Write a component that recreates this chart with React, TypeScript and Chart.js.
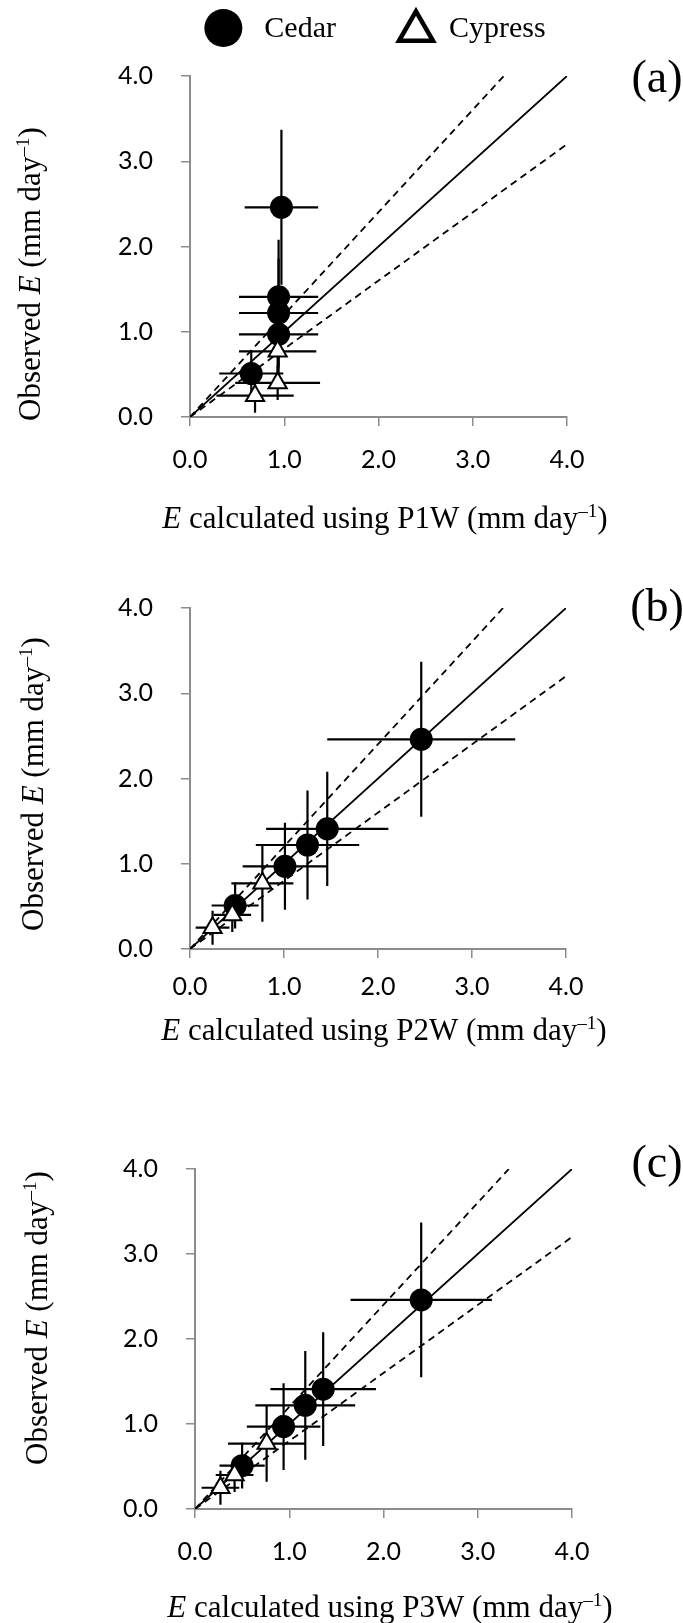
import React, { useEffect, useRef } from 'react';
import { Chart, registerables } from 'chart.js';

Chart.register(...registerables);

// ---------- data ----------
const TICK_MIN = 0;
const TICK_MAX = 4;
const TICK_STEP = 1;

const LEGEND_LABELS = ['Cedar', 'Cypress'];
const PANEL_TAGS = ['(a)', '(b)', '(c)'];
const METHODS = ['P1W', 'P2W', 'P3W'];

// observed E (shared by all panels)
const cedarObs = [2.46, 1.41, 1.22, 0.97, 0.51];
const cedarObsErr = [0.91, 0.67, 0.64, 0.51, 0.27];
const cypressObs = [0.77, 0.4, 0.25];
const cypressObsErr = [0.45, 0.2, 0.2];

// calculated E, P1W
const cedarP1W = [0.97, 0.94, 0.94, 0.94, 0.65];
const cedarP1WErr = [0.39, 0.42, 0.42, 0.42, 0.34];
const cypressP1W = [0.93, 0.93, 0.69];
const cypressP1WErr = [0.41, 0.45, 0.41];

// calculated E, P2W
const cedarP2W = [2.46, 1.46, 1.25, 1.01, 0.48];
const cedarP2WErr = [1.0, 0.65, 0.55, 0.45, 0.25];
const cypressP2W = [0.77, 0.45, 0.24];
const cypressP2WErr = [0.33, 0.2, 0.18];

// calculated E, P3W
const cedarP3W = [2.4, 1.36, 1.17, 0.94, 0.5];
const cedarP3WErr = [0.75, 0.56, 0.53, 0.39, 0.24];
const cypressP3W = [0.76, 0.42, 0.27];
const cypressP3WErr = [0.41, 0.2, 0.2];

// reference lines (1:1 and ±20 %)
const oneToOneX = [0, 4];
const oneToOneY = [0, 4];
const upperX = [0, 3.33];
const upperY = [0, 4];
const lowerX = [0, 4];
const lowerY = [0, 3.2];

const CALC_X = [
  [cedarP1W, cedarP1WErr, cypressP1W, cypressP1WErr],
  [cedarP2W, cedarP2WErr, cypressP2W, cypressP2WErr],
  [cedarP3W, cedarP3WErr, cypressP3W, cypressP3WErr],
];

// ---------- layout (page pixels) ----------
const PAGE_W = 683;
const LAYOUT = [
  { canvasTop: 0, canvasH: 545, left: 190, right: 567, top: 76, bottom: 417, xPad: 19,
    yTitle: [30, 274], xTitle: [385, 518], tag: [657, 77], legendY: 28, legendCX: 375 },
  { canvasTop: 545, canvasH: 535, left: 190, right: 566, top: 608, bottom: 949, xPad: 14,
    yTitle: [33, 784], xTitle: [384, 1030], tag: [657, 606] },
  { canvasTop: 1080, canvasH: 543, left: 195, right: 572, top: 1169, bottom: 1509, xPad: 19,
    yTitle: [37, 1318], xTitle: [390, 1607], tag: [657, 1162] },
];

const SERIF = '"Liberation Serif", "Times New Roman", serif';
const SANS = 'Lato, "Open Sans", sans-serif';
const AXIS_GREY = '#8c8c8c';

type Seg = { text: string; italic?: boolean; sup?: boolean };
type RichItem = { segs: Seg[]; x: number; y: number; size: number; rotate?: number };

const toPts = (xs: number[], xe: number[], ys: number[], ye: number[]) =>
  xs.map((x, i) => ({ x, y: ys[i], xErr: xe[i], yErr: ye[i] }));
const toLine = (xs: number[], ys: number[]) => xs.map((x, i) => ({ x, y: ys[i] }));

const errorBarPlugin = {
  id: 'errorBars',
  beforeDatasetsDraw(chart: any) {
    const { ctx } = chart;
    const xs = chart.scales.x;
    const ys = chart.scales.y;
    chart.data.datasets.forEach((ds: any) => {
      if (!ds.errorBars) return;
      ctx.save();
      ctx.strokeStyle = '#000';
      ctx.lineWidth = 2.2;
      ds.data.forEach((p: any) => {
        const px = xs.getPixelForValue(p.x);
        const py = ys.getPixelForValue(p.y);
        ctx.beginPath();
        ctx.moveTo(xs.getPixelForValue(p.x - p.xErr), py);
        ctx.lineTo(xs.getPixelForValue(p.x + p.xErr), py);
        ctx.moveTo(px, ys.getPixelForValue(p.y - p.yErr));
        ctx.lineTo(px, ys.getPixelForValue(p.y + p.yErr));
        ctx.stroke();
      });
      ctx.restore();
    });
  },
};

function makeRichTextPlugin(items: RichItem[]) {
  return {
    id: 'richText',
    afterDraw(chart: any) {
      const ctx = chart.ctx;
      items.forEach((it) => {
        ctx.save();
        ctx.translate(it.x, it.y);
        if (it.rotate) ctx.rotate(it.rotate);
        const parts = it.segs.map((s) => {
          const fs = s.sup ? it.size * 0.62 : it.size;
          const font = `${s.italic ? 'italic ' : ''}${fs}px ${SERIF}`;
          ctx.font = font;
          return { ...s, font, w: ctx.measureText(s.text).width };
        });
        const total = parts.reduce((a, p) => a + p.w, 0);
        let x = -total / 2;
        ctx.fillStyle = '#000';
        ctx.textAlign = 'left';
        ctx.textBaseline = 'alphabetic';
        const base = it.size * 0.33;
        parts.forEach((p) => {
          ctx.font = p.font;
          ctx.fillText(p.text, x, base - (p.sup ? it.size * 0.36 : 0));
          x += p.w;
        });
        ctx.restore();
      });
    },
  };
}

function makeLegendPlugin(cx: number, cy: number) {
  return {
    id: 'topLegend',
    afterDraw(chart: any) {
      const ctx = chart.ctx;
      const size = 30;
      ctx.save();
      ctx.font = `${size}px ${SERIF}`;
      const w0 = ctx.measureText(LEGEND_LABELS[0]).width;
      const w1 = ctx.measureText(LEGEND_LABELS[1]).width;
      const circleD = 38;
      const triW = 34;
      const total = circleD + 22 + w0 + 63 + triW + 16 + w1;
      let x = cx - total / 2;
      ctx.fillStyle = '#000';
      ctx.beginPath();
      ctx.arc(x + circleD / 2, cy, circleD / 2, 0, Math.PI * 2);
      ctx.fill();
      x += circleD + 22;
      ctx.textAlign = 'left';
      ctx.textBaseline = 'middle';
      ctx.fillText(LEGEND_LABELS[0], x, cy + 1);
      x += w0 + 63;
      const r = triW / Math.sqrt(3);
      const tcx = x + triW / 2;
      const tcy = cy + 3;
      ctx.beginPath();
      ctx.moveTo(tcx, tcy - r);
      ctx.lineTo(tcx + triW / 2, tcy + r / 2);
      ctx.lineTo(tcx - triW / 2, tcy + r / 2);
      ctx.closePath();
      ctx.fillStyle = '#fff';
      ctx.fill();
      ctx.lineWidth = 4.5;
      ctx.lineJoin = 'miter';
      ctx.strokeStyle = '#000';
      ctx.stroke();
      x += triW + 16;
      ctx.fillStyle = '#000';
      ctx.fillText(LEGEND_LABELS[1], x, cy + 1);
      ctx.restore();
    },
  };
}

function buildConfig(i: number) {
  const L: any = LAYOUT[i];
  const [cX, cXe, yX, yXe] = CALC_X[i];
  const cedar = toPts(cX, cXe, cedarObs, cedarObsErr);
  const cypress = toPts(yX, yXe, cypressObs, cypressObsErr);
  const off = L.canvasTop;
  const xAxisH = L.canvasH - (L.bottom - off);

  const rich: RichItem[] = [
    {
      segs: [{ text: 'Observed ' }, { text: 'E', italic: true }, { text: ' (mm day' }, { text: '–1', sup: true }, { text: ')' }],
      x: L.yTitle[0], y: L.yTitle[1] - off, size: 31, rotate: -Math.PI / 2,
    },
    {
      segs: [{ text: 'E', italic: true }, { text: ` calculated using ${METHODS[i]} (mm day` }, { text: '–1', sup: true }, { text: ')' }],
      x: L.xTitle[0], y: L.xTitle[1] - off, size: 31,
    },
    { segs: [{ text: PANEL_TAGS[i] }], x: L.tag[0], y: L.tag[1] - off, size: 46 },
  ];

  const plugins: any[] = [errorBarPlugin, makeRichTextPlugin(rich)];
  if (L.legendY !== undefined) plugins.push(makeLegendPlugin(L.legendCX, L.legendY - off));

  const scaleBase = (extra: any) => ({
    type: 'linear',
    min: TICK_MIN,
    max: TICK_MAX,
    ticks: {
      stepSize: TICK_STEP,
      callback: (v: any) => Number(v).toFixed(1),
      font: { family: SANS, size: 25 },
      color: '#000',
      autoSkip: false,
      maxRotation: 0,
      ...extra.ticks,
    },
    grid: { display: true, drawOnChartArea: false, drawTicks: true, tickLength: 9, color: AXIS_GREY, lineWidth: 1.5 },
    border: { display: true, color: AXIS_GREY, width: 2 },
    title: { display: false },
    afterFit: extra.afterFit,
  });

  return {
    type: 'scatter',
    data: {
      datasets: [
        {
          label: LEGEND_LABELS[1], data: cypress, errorBars: true, order: 0,
          pointStyle: 'triangle', pointRadius: 10.5, pointBackgroundColor: '#fff',
          pointBorderColor: '#000', pointBorderWidth: 2, backgroundColor: '#fff', borderColor: '#000',
        },
        {
          label: LEGEND_LABELS[0], data: cedar, errorBars: true, order: 1,
          pointStyle: 'circle', pointRadius: 11.5, pointBackgroundColor: '#000',
          pointBorderColor: '#000', pointBorderWidth: 0, backgroundColor: '#000', borderColor: '#000',
        },
        {
          label: '1:1', data: toLine(oneToOneX, oneToOneY), showLine: true, order: 2,
          borderColor: '#000', borderWidth: 1.8, pointRadius: 0, fill: false,
        },
        {
          label: '+20%', data: toLine(upperX, upperY), showLine: true, order: 3,
          borderColor: '#000', borderWidth: 1.8, borderDash: [7, 5], pointRadius: 0, fill: false,
        },
        {
          label: '-20%', data: toLine(lowerX, lowerY), showLine: true, order: 4,
          borderColor: '#000', borderWidth: 1.8, borderDash: [7, 5], pointRadius: 0, fill: false,
        },
      ],
    },
    options: {
      animation: false,
      responsive: false,
      maintainAspectRatio: false,
      events: [],
      layout: { padding: { top: L.top - off, right: PAGE_W - L.right, bottom: 0, left: 0 } },
      plugins: { legend: { display: false }, tooltip: { enabled: false } },
      scales: {
        x: scaleBase({ ticks: { padding: L.xPad }, afterFit: (s: any) => { s.height = xAxisH; } }),
        y: scaleBase({ ticks: { padding: 28 }, afterFit: (s: any) => { s.width = L.left; } }),
      },
    },
    plugins,
  };
}

function Panel({ index }: { index: number }) {
  const ref = useRef<HTMLCanvasElement | null>(null);
  const L = LAYOUT[index];
  useEffect(() => {
    if (!ref.current) return;
    const chart = new Chart(ref.current, buildConfig(index) as any);
    return () => chart.destroy();
  }, [index]);
  return (
    <canvas
      ref={ref}
      width={PAGE_W}
      height={L.canvasH}
      style={{ position: 'absolute', left: 0, top: L.canvasTop, width: PAGE_W, height: L.canvasH }}
    />
  );
}

export default function App() {
  useEffect(() => {
    document.body.style.margin = '0';
    document.body.style.background = '#fff';
  }, []);
  return (
    <div style={{ position: 'relative', width: PAGE_W, height: 1623, background: '#fff' }}>
      {LAYOUT.map((_, i) => (
        <Panel key={i} index={i} />
      ))}
    </div>
  );
}
